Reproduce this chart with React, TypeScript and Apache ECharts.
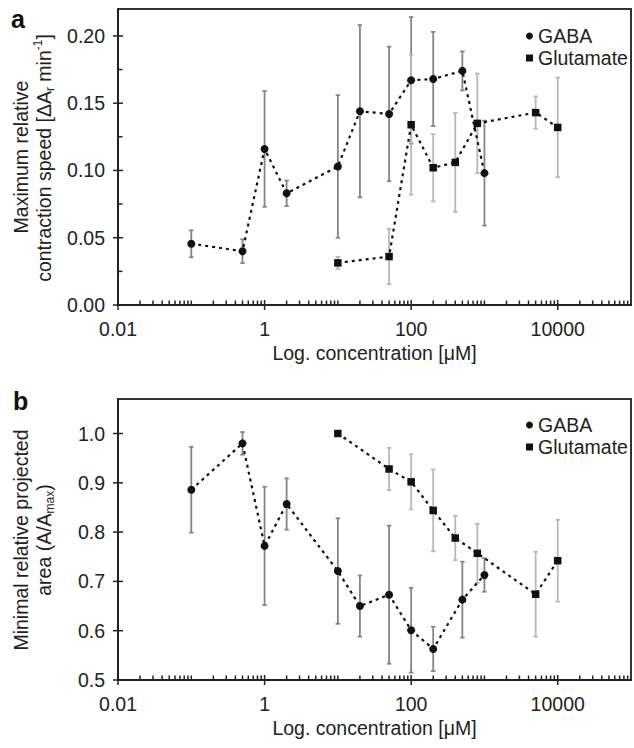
import React, { useEffect, useRef } from "react";
import * as echarts from "echarts";

// ---- data (concentrations in µM) ----
const gabaConc = [0.1, 0.5, 1, 2, 10, 20, 50, 100, 200, 500, 1000];
const gluConc = [10, 50, 100, 200, 400, 800, 5000, 10000];

// panel a: maximum relative contraction speed
const gabaSpeed = [0.0455, 0.04, 0.116, 0.083, 0.103, 0.144, 0.142, 0.167, 0.168, 0.174, 0.098];
const gabaSpeedErr = [0.01, 0.0088, 0.043, 0.0095, 0.053, 0.064, 0.05, 0.047, 0.035, 0.0145, 0.039];
const gluSpeed = [0.0313, 0.036, 0.134, 0.102, 0.106, 0.135, 0.143, 0.132];
const gluSpeedErr = [0.0045, 0.0206, 0.052, 0.025, 0.0367, 0.037, 0.012, 0.037];

// panel b: minimal relative projected area
const gabaArea = [0.886, 0.98, 0.772, 0.857, 0.721, 0.65, 0.673, 0.601, 0.563, 0.663, 0.713];
const gabaAreaErr = [0.087, 0.023, 0.12, 0.052, 0.107, 0.062, 0.14, 0.086, 0.045, 0.077, 0.034];
const gluArea = [1.0, 0.928, 0.902, 0.844, 0.788, 0.757, 0.674, 0.742];
const gluAreaErr = [0, 0.043, 0.056, 0.083, 0.045, 0.06, 0.086, 0.083];

// tick labels
const xLabelExponents = [-2, 0, 2, 4];
const xTickLabels = ["0.01", "1", "100", "10000"];
const seriesNames = ["GABA", "Glutamate"];

const FONT = "'Liberation Sans', Arial, Helvetica, sans-serif";
const TXT = "#222";
const FS = 19.5;

const panels = [
  {
    top: 9, height: 296, yMin: 0, yMax: 0.22, yStep: 0.05, yMinor: true, digits: 2,
    gaba: gabaSpeed, gabaErr: gabaSpeedErr, glu: gluSpeed, gluErr: gluSpeedErr, legendTop: 21,
  },
  {
    top: 399, height: 281, yMin: 0.5, yMax: 1.07, yStep: 0.1, yMinor: false, digits: 1,
    gaba: gabaArea, gabaErr: gabaAreaErr, glu: gluArea, gluErr: gluAreaErr, legendTop: 410,
  },
];

function buildOption() {
  const grid: any[] = [];
  const xAxis: any[] = [];
  const yAxis: any[] = [];
  const series: any[] = [];
  const legend: any[] = [];

  panels.forEach((p, gi) => {
    grid.push({
      left: 118, top: p.top, width: 518, height: p.height,
      show: true, borderColor: "#333", borderWidth: 2, backgroundColor: "transparent",
    });
    xAxis.push({
      gridIndex: gi, type: "value", min: -2, max: 5, interval: 2,
      splitLine: { show: false }, axisTick: { show: false },
      axisLine: { onZero: false, lineStyle: { color: TXT, width: 2 } },
      axisLabel: {
        color: TXT, fontSize: FS, fontFamily: FONT, margin: 14,
        formatter: (v: number) => {
          const r = Math.round(v);
          if (Math.abs(v - r) > 1e-6) return "";
          const i = xLabelExponents.indexOf(r);
          return i >= 0 ? xTickLabels[i] : "";
        },
      },
      name: "Log. concentration [μM]", nameLocation: "middle", nameGap: 38,
      nameTextStyle: { color: TXT, fontSize: FS, fontFamily: FONT },
    });
    yAxis.push({
      gridIndex: gi, type: "value", min: p.yMin, max: p.yMax, interval: p.yStep,
      splitLine: { show: false }, axisTick: { show: false },
      axisLine: { show: true, onZero: false, lineStyle: { color: TXT, width: 2 } },
      axisLabel: {
        color: TXT, fontSize: FS, fontFamily: FONT, margin: 13, showMaxLabel: false,
        formatter: (v: number) => v.toFixed(p.digits),
      },
    });

    // ticks (log-spaced minor ticks on x, crossing major ticks)
    const ticks: number[][] = [];
    for (let e = -2; e <= 4; e++) {
      for (let k = 1; k <= 9; k++) {
        const v = Math.log10(k) + e;
        const major = k === 1 && e % 2 === 0;
        ticks.push([v, p.yMin, major ? 0 : 1]);
      }
    }
    const nMaj = Math.round((p.yMax - p.yMin) / p.yStep + 1e-9);
    for (let j = 0; j <= nMaj; j++) {
      const v = p.yMin + j * p.yStep;
      if (v > p.yMax + 1e-9) break;
      ticks.push([-2, v, 2]);
      if (p.yMinor && v + p.yStep / 2 < p.yMax) ticks.push([-2, v + p.yStep / 2, 3]);
    }
    series.push({
      type: "custom", xAxisIndex: gi, yAxisIndex: gi, silent: true, z: 5,
      dimensions: ["x", "y", "t"], encode: { x: 0, y: 1 }, data: ticks,
      renderItem: (params: any, api: any) => {
        const t = api.value(2);
        const c = api.coord([api.value(0), api.value(1)]);
        let shape;
        if (t === 0) shape = { x1: c[0], y1: c[1] + 5, x2: c[0], y2: c[1] - 5 };
        else if (t === 1) shape = { x1: c[0], y1: c[1], x2: c[0], y2: c[1] - 4.5 };
        else if (t === 2) shape = { x1: c[0] - 5, y1: c[1], x2: c[0] + 5, y2: c[1] };
        else shape = { x1: c[0], y1: c[1], x2: c[0] + 4.5, y2: c[1] };
        return { type: "line", shape, style: { stroke: TXT, lineWidth: 1.5 } };
      },
    });

    const sets = [
      { name: seriesNames[0], conc: gabaConc, val: p.gaba, err: p.gabaErr, symbol: "circle", size: 8, errColor: "#858585" },
      { name: seriesNames[1], conc: gluConc, val: p.glu, err: p.gluErr, symbol: "rect", size: 7.5, errColor: "#b8b8b8" },
    ];
    sets.forEach((s) => {
      series.push({
        type: "custom", xAxisIndex: gi, yAxisIndex: gi, silent: true, z: 3,
        dimensions: ["x", "y", "e"], encode: { x: 0, y: 1 },
        data: s.conc.map((c, i) => [Math.log10(c), s.val[i], s.err[i]]),
        renderItem: (params: any, api: any) => {
          const x = api.value(0), y = api.value(1), e = api.value(2);
          if (!e) return { type: "group", children: [] };
          const top = api.coord([x, y + e]);
          const bot = api.coord([x, y - e]);
          const st = { stroke: s.errColor, lineWidth: 1.8 };
          return {
            type: "group",
            children: [
              { type: "line", shape: { x1: top[0], y1: top[1], x2: bot[0], y2: bot[1] }, style: st },
              { type: "line", shape: { x1: top[0] - 2.2, y1: top[1], x2: top[0] + 2.2, y2: top[1] }, style: st },
              { type: "line", shape: { x1: bot[0] - 2.2, y1: bot[1], x2: bot[0] + 2.2, y2: bot[1] }, style: st },
            ],
          };
        },
      });
      series.push({
        name: s.name, type: "line", xAxisIndex: gi, yAxisIndex: gi, z: 10,
        data: s.conc.map((c, i) => [Math.log10(c), s.val[i]]),
        symbol: s.symbol, symbolSize: s.size, showSymbol: true,
        itemStyle: { color: "#111" },
        lineStyle: { color: "#111", width: 2.2, type: [3, 4] },
      });
    });

    legend.push({
      left: 521, top: p.legendTop, orient: "vertical", itemWidth: 7, itemHeight: 7, itemGap: 2,
      selectedMode: false,
      textStyle: { color: TXT, fontSize: FS, fontFamily: FONT, lineHeight: 20 },
      data: [
        { name: seriesNames[0], icon: "circle" },
        { name: seriesNames[1], icon: "rect" },
      ],
    });
  });

  const sub = { fontSize: 12, fontFamily: FONT, fill: TXT, lineHeight: 12, verticalAlign: "bottom" };
  const sup = { fontSize: 12, fontFamily: FONT, fill: TXT, lineHeight: 12, verticalAlign: "top" };
  const base = { fontSize: FS, fontFamily: FONT, fill: TXT, align: "center", verticalAlign: "middle", lineHeight: 24 };

  const graphic = [
    { type: "text", x: 11, y: 18.5, style: { text: "a", fontSize: 25, fontWeight: "bold", fontFamily: FONT, fill: "#111", align: "left", verticalAlign: "middle" } },
    { type: "text", x: 21, y: 157, rotation: Math.PI / 2, style: { ...base, text: "Maximum relative" } },
    {
      type: "text", x: 44, y: 158, rotation: Math.PI / 2,
      style: { ...base, text: "contraction speed [ΔA{sub|r} min{sup|-1}]", rich: { sub, sup } },
    },
    { type: "text", x: 13, y: 401, style: { text: "b", fontSize: 25, fontWeight: "bold", fontFamily: FONT, fill: "#111", align: "left", verticalAlign: "middle" } },
    { type: "text", x: 21, y: 540, rotation: Math.PI / 2, style: { ...base, text: "Minimal relative projected" } },
    {
      type: "text", x: 44, y: 540, rotation: Math.PI / 2,
      style: { ...base, text: "area (A/A{sub|max})", rich: { sub } },
    },
  ];

  return {
    animation: false,
    backgroundColor: "#fff",
    textStyle: { fontFamily: FONT },
    grid, xAxis, yAxis, series, legend, graphic,
  };
}

export default function App() {
  const ref = useRef<HTMLDivElement>(null);
  useEffect(() => {
    document.body.style.margin = "0";
    if (!ref.current) return;
    const chart = echarts.init(ref.current, undefined, { renderer: "svg" });
    chart.setOption(buildOption() as any);
    return () => chart.dispose();
  }, []);
  return <div ref={ref} style={{ width: 634, height: 748 }} />;
}
